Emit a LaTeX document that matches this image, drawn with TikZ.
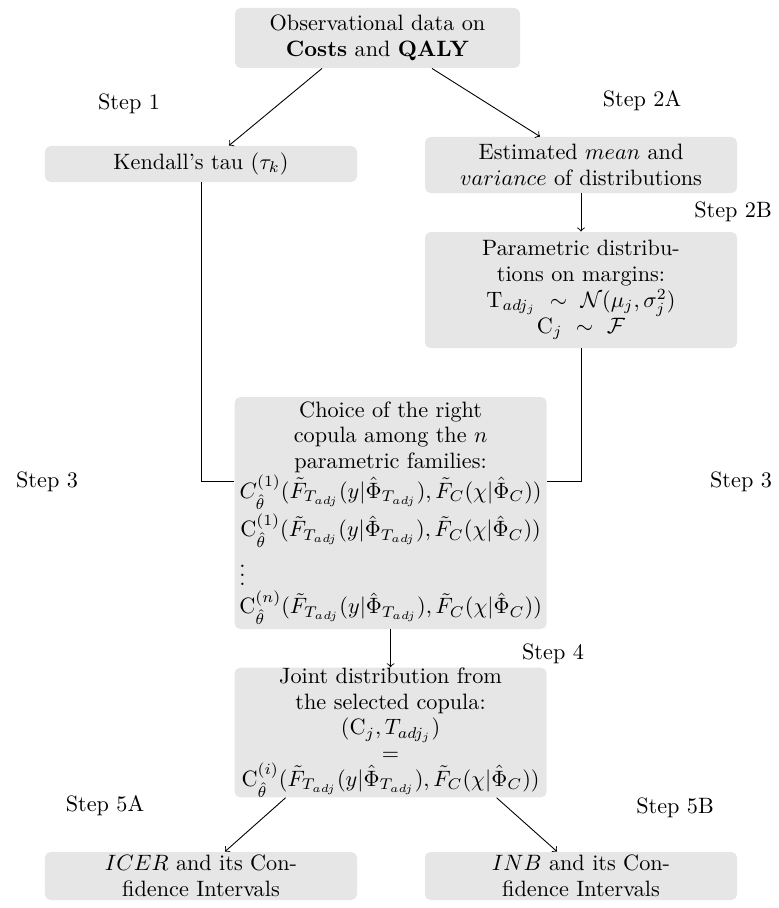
\documentclass[tikz,border=0pt]{standalone}
\usepackage{amsmath,amssymb}
\usetikzlibrary{calc}
\definecolor{boxgray}{HTML}{E6E6E6}
\newcommand{\cpbody}{(\tilde{F}_{T_{adj}}(y|\hat{\Phi}_{T_{adj}}),\tilde{F}_C(\chi|\hat{\Phi}_C))}
\begin{document}
\begin{tikzpicture}[x={(0.45pt,0pt)},y={(0pt,-0.45pt)},
  box/.style={fill=boxgray, rounded corners=2.5pt, align=center, inner sep=0pt,
    font=\fontsize{10}{11.6}\selectfont},
  arr/.style={->, >=to, thin},
  conn/.style={thin},
  steplbl/.style={inner sep=0pt}]
\useasboundingbox (0,0) rectangle (778,908);
% boxes
\node[box, minimum width=128.25pt, minimum height=27pt] (top) at (377.5,38)
  {Observational data on\\ \textbf{Costs} and \textbf{QALY}};
\node[box, minimum width=140.4pt, minimum height=16.2pt] (ken) at (201,164)
  {Kendall's tau ($\tau_k$)};
\node[box, minimum width=140.4pt, minimum height=25.2pt] (est) at (581,165)
  {Estimated $mean$ and\\ $variance$ of distributions};
\node[box, minimum width=140.4pt, minimum height=52.2pt] (par) at (581,290)
  {Parametric distribu-\\ tions on margins:\\
   $\mathrm{T}_{adj_j}\ \sim\ \mathcal{N}(\mu_j,\sigma_j^2)$\\
   $\mathrm{C}_j\ \sim\ \mathcal{F}$};
\node[box, minimum width=140.4pt, minimum height=104.4pt] (cho) at (390.6,513)
  {Choice of the right\\ copula among the $n$\\ parametric families:\\
   $C_{\hat{\theta}}^{(1)}\cpbody$\\[1pt]
   $\mathrm{C}_{\hat{\theta}}^{(1)}\cpbody$\\[1pt]
   $\rlap{$\vdots$}\hphantom{\mathrm{C}_{\hat{\theta}}^{(n)}\cpbody}$\\[1pt]
   $\mathrm{C}_{\hat{\theta}}^{(n)}\cpbody$};
\node[box, minimum width=140.4pt, minimum height=53.5pt] (joi) at (390.6,732.5)
  {Joint distribution from\\ the selected copula:\\
   $(\mathrm{C}_j,T_{adj_j})$\\ $=$\\
   $\mathrm{C}_{\hat{\theta}}^{(i)}\cpbody$};
\node[box, minimum width=140.4pt, minimum height=21.6pt] (ice) at (201,876)
  {$ICER$ and its Con-\\ fidence Intervals};
\node[box, minimum width=140.4pt, minimum height=21.6pt] (inb) at (581,876)
  {$INB$ and its Con-\\ fidence Intervals};
% step labels
\node[steplbl] (s1) at (129,104) {Step 1};
\node[steplbl] (s2a) at (642,101) {Step 2A};
\node[steplbl] (s2b) at (733,212) {Step 2B};
\node[steplbl] (s3l) at (47,482) {Step 3};
\node[steplbl] (s3r) at (741,482) {Step 3};
\node[steplbl] (s4) at (553,654) {Step 4};
\node[steplbl] (s5a) at (105,806) {Step 5A};
\node[steplbl] (s5b) at (675,808) {Step 5B};
% connectors
\draw[arr] ($(top.south)+(-55.5,0)$) -- ($(ken.north)+(28,0)$);
\draw[arr] ($(top.south)+(54.5,0)$) -- ($(est.north)+(-41,0)$);
\draw[arr] (est.south) -- (par.north);
\draw[conn] (ken.south) |- ($(cho.west)+(0,-32)$);
\draw[conn] (par.south) |- ($(cho.east)+(0,-32)$);
\draw[arr] (cho.south) -- (joi.north);
\draw[arr] ($(joi.south)+(-105,0)$) -- ($(ice.north)+(24,0)$);
\draw[arr] ($(joi.south)+(106,0)$) -- ($(inb.north)+(-24,0)$);
\end{tikzpicture}
\end{document}
